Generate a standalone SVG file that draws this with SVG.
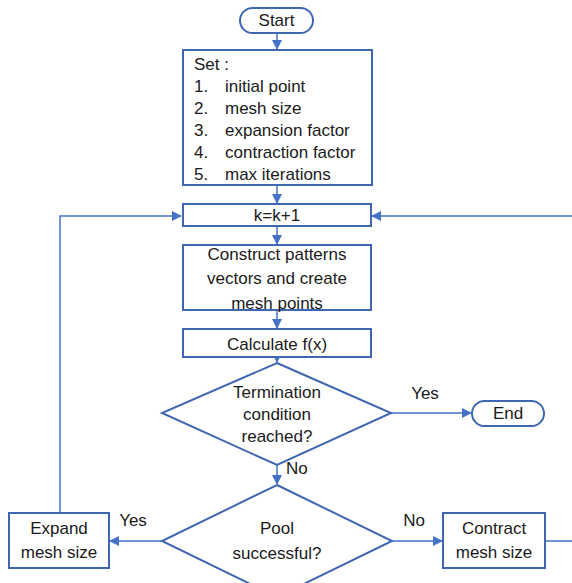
<svg xmlns="http://www.w3.org/2000/svg" width="572" height="583" viewBox="0 0 572 583">
<defs>
<marker id="arr" markerWidth="10" markerHeight="10" refX="9" refY="5" orient="auto" markerUnits="userSpaceOnUse">
<path d="M0,0 L10,5 L0,10 z" fill="#4472C4"/>
</marker>
<style>
.box{fill:#fff;stroke:#3F67B1;stroke-width:2}
.ln{fill:none;stroke:#4472C4;stroke-width:1.5}
text{font-family:"Liberation Sans",Arial,sans-serif;font-size:17px;fill:#1a1a1a}
.c{text-anchor:middle}
</style>
</defs>
<rect width="572" height="583" fill="#fff"/>
<g id="connectors">
<path class="ln" d="M277,33 V49" marker-end="url(#arr)"/>
<path class="ln" d="M277,185 V203" marker-end="url(#arr)"/>
<path class="ln" d="M277,226 V244" marker-end="url(#arr)"/>
<path class="ln" d="M277,310 V328" marker-end="url(#arr)"/>
<path class="ln" d="M277,357 V362" marker-end="url(#arr)"/>
<path class="ln" d="M391,413 H471" marker-end="url(#arr)"/>
<path class="ln" d="M277,465 V484" marker-end="url(#arr)"/>
<path class="ln" d="M162,541 H110" marker-end="url(#arr)"/>
<path class="ln" d="M392,541 H442" marker-end="url(#arr)"/>
<path class="ln" d="M60,513 V216 H181" marker-end="url(#arr)"/>
<path class="ln" d="M545,541 H574 V216 H372" marker-end="url(#arr)"/>
</g>
<g id="start">
<rect class="box" x="240" y="8" width="73" height="25" rx="12.5"/>
<text class="c" x="276.5" y="26">Start</text>
</g>
<g id="set">
<rect class="box" x="183" y="50" width="189" height="135"/>
<text x="194" y="70">Set :</text>
<text x="194" y="92">1.</text><text x="225" y="92">initial point</text>
<text x="194" y="114">2.</text><text x="225" y="114">mesh size</text>
<text x="194" y="136">3.</text><text x="225" y="136">expansion factor</text>
<text x="194" y="158">4.</text><text x="225" y="158">contraction factor</text>
<text x="194" y="180">5.</text><text x="225" y="180">max iterations</text>
</g>
<g id="k">
<rect class="box" x="183" y="204" width="188" height="22"/>
<text class="c" x="277" y="221">k=k+1</text>
</g>
<g id="construct">
<rect class="box" x="183" y="245" width="188" height="65"/>
<text class="c" x="277" y="260">Construct patterns</text>
<text class="c" x="277" y="284">vectors and create</text>
<text class="c" x="277" y="309">mesh points</text>
</g>
<g id="calc">
<rect class="box" x="183" y="329" width="188" height="28"/>
<text class="c" x="277" y="350">Calculate f(x)</text>
</g>
<g id="term">
<polygon class="box" points="277,363 391,413 277,465 162,413"/>
<text class="c" x="277" y="398">Termination</text>
<text class="c" x="277" y="420">condition</text>
<text class="c" x="277" y="442">reached?</text>
</g>
<text class="c" x="425" y="399">Yes</text>
<text x="286" y="474">No</text>
<g id="end">
<rect class="box" x="472" y="401" width="72" height="25" rx="12.5"/>
<text class="c" x="508" y="419">End</text>
</g>
<g id="pool">
<polygon class="box" points="277,485 392,541 277,597 162,541"/>
<text class="c" x="277" y="534">Pool</text>
<text class="c" x="277" y="559">successful?</text>
</g>
<text class="c" x="133" y="526">Yes</text>
<text class="c" x="414" y="526">No</text>
<g id="expand">
<rect class="box" x="9" y="513" width="100" height="55"/>
<text class="c" x="59" y="534">Expand</text>
<text class="c" x="59" y="558">mesh size</text>
</g>
<g id="contract">
<rect class="box" x="443" y="513" width="102" height="55"/>
<text class="c" x="494" y="534">Contract</text>
<text class="c" x="494" y="558">mesh size</text>
</g>
</svg>
